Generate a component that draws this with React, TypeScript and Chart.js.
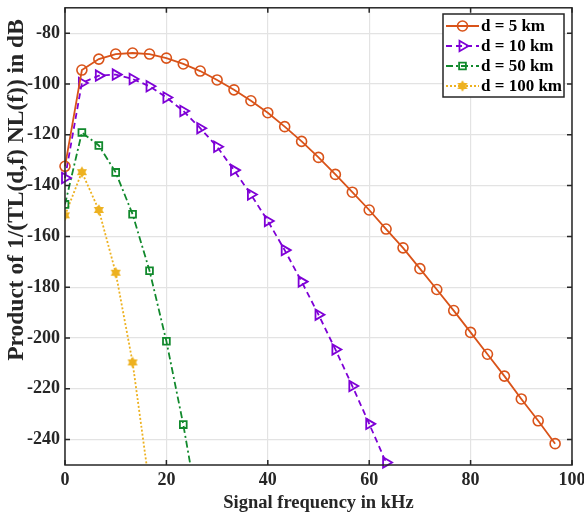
import React, { useEffect, useRef } from "react";
import { Chart, registerables } from "chart.js";
import { drawPoint } from "chart.js/helpers";

Chart.register(...registerables);

const FREQ = [0, 3.33, 6.67, 10, 13.33, 16.67, 20, 23.33, 26.67, 30, 33.33, 36.67, 40, 43.33, 46.67, 50, 53.33, 56.67, 60, 63.33, 66.67, 70, 73.33, 76.67, 80, 83.33, 86.67, 90, 93.33, 96.67];
const D5 = [-132.4, -94.5, -90.2, -88.2, -87.8, -88.2, -89.8, -92.1, -94.9, -98.4, -102.3, -106.6, -111.3, -116.8, -122.6, -128.9, -135.6, -142.6, -149.6, -157.1, -164.5, -172.7, -180.9, -189.2, -197.8, -206.4, -215.0, -224.0, -232.6, -241.6];
const D10 = [-137.0, -99.6, -96.7, -96.3, -98.0, -100.9, -105.3, -110.6, -117.4, -124.7, -133.9, -143.5, -153.9, -165.4, -177.8, -190.8, -204.5, -218.9, -233.8, -249.0];
const D50 = [-147.4, -119.1, -124.2, -134.8, -151.3, -173.5, -201.3, -234.1, -272.0];
const D100 = [-151.7, -134.7, -149.6, -174.3, -209.6, -258.4];
const LABELS = ["d = 5 km", "d = 10 km", "d = 50 km", "d = 100 km"];
const X_TICKS = [0, 20, 40, 60, 80, 100];
const Y_TICKS = [-240, -220, -200, -180, -160, -140, -120, -100, -80];
const X_TITLE = "Signal frequency in kHz";
const Y_TITLE = "Product of 1/(TL(d,f) NL(f)) in dB";

const FONT = "'Liberation Serif', 'Times New Roman', serif";
const AXIS_COLOR = "#262626";

function makeStar(color: string): HTMLCanvasElement {
  const c = document.createElement("canvas");
  c.width = 12;
  c.height = 12;
  const g = c.getContext("2d")!;
  g.fillStyle = color;
  g.beginPath();
  const cx = 6, cy = 6;
  for (let i = 0; i < 12; i++) {
    const r = i % 2 === 0 ? 5.8 : 3.4;
    const a = (Math.PI / 6) * i - Math.PI / 2;
    const px = cx + r * Math.cos(a);
    const py = cy + r * Math.sin(a);
    if (i === 0) g.moveTo(px, py);
    else g.lineTo(px, py);
  }
  g.closePath();
  g.fill();
  return c;
}

function toPts(ys: number[]) {
  return ys.map((y, i) => ({ x: FREQ[i], y }));
}

function noPad(s: any) {
  s.paddingLeft = 0;
  s.paddingRight = 0;
  s.paddingTop = 0;
  s.paddingBottom = 0;
}

export default function App() {
  const ref = useRef<HTMLCanvasElement>(null);
  useEffect(() => {
    document.body.style.margin = "0";
    const star = makeStar("#EDB120");
    const styles = [
      { color: "#D95319", dash: [] as number[], point: "circle" as any, radius: 5, rot: 0, bw: 1.6 },
      { color: "#7E00D6", dash: [6, 4], point: "triangle" as any, radius: 6, rot: 90, bw: 1.8 },
      { color: "#11892C", dash: [7, 3, 2, 3], point: "rect" as any, radius: 4.8, rot: 0, bw: 1.8 },
      { color: "#EDB120", dash: [2, 2], point: star as any, radius: 6, rot: 0, bw: 0 },
    ];
    const series = [D5, D10, D50, D100];
    const datasets = series.map((s, i) => ({
      label: LABELS[i],
      data: toPts(s),
      borderColor: styles[i].color,
      backgroundColor: "rgba(255,255,255,0)",
      borderWidth: 1.8,
      borderDash: styles[i].dash,
      pointStyle: styles[i].point,
      pointRadius: styles[i].radius,
      pointRotation: styles[i].rot,
      pointBorderWidth: styles[i].bw,
      pointBorderColor: styles[i].color,
      pointBackgroundColor: "rgba(255,255,255,0)",
      tension: 0,
      clip: i < 2 ? (false as any) : undefined,
    }));

    const framePlugin = {
      id: "frame",
      afterDraw(chart: any) {
        const { ctx, chartArea: a } = chart;
        const xs = chart.scales.x;
        const ys = chart.scales.y;
        ctx.save();
        ctx.strokeStyle = AXIS_COLOR;
        ctx.lineWidth = 1.5;
        ctx.setLineDash([]);
        ctx.strokeRect(a.left, a.top, a.right - a.left, a.bottom - a.top);
        ctx.beginPath();
        const tl = 5;
        X_TICKS.forEach((v) => {
          const px = xs.getPixelForValue(v);
          ctx.moveTo(px, a.bottom);
          ctx.lineTo(px, a.bottom - tl);
          ctx.moveTo(px, a.top);
          ctx.lineTo(px, a.top + tl);
        });
        Y_TICKS.forEach((v) => {
          const py = ys.getPixelForValue(v);
          ctx.moveTo(a.left, py);
          ctx.lineTo(a.left + tl, py);
          ctx.moveTo(a.right, py);
          ctx.lineTo(a.right - tl, py);
        });
        ctx.stroke();

        // y axis title
        ctx.save();
        ctx.translate(17, 190);
        ctx.rotate(-Math.PI / 2);
        ctx.fillStyle = AXIS_COLOR;
        ctx.font = `bold 23.5px ${FONT}`;
        ctx.textAlign = "center";
        ctx.textBaseline = "middle";
        ctx.fillText(Y_TITLE, 0, 0);
        ctx.restore();

        // legend
        const lx = 443, ly = 14, lw = 121, lh = 83;
        ctx.fillStyle = "#ffffff";
        ctx.fillRect(lx, ly, lw, lh);
        ctx.strokeStyle = AXIS_COLOR;
        ctx.lineWidth = 1.5;
        ctx.strokeRect(lx, ly, lw, lh);
        styles.forEach((st, i) => {
          const yy = ly + 12 + i * 20;
          ctx.strokeStyle = st.color;
          ctx.lineWidth = 1.8;
          ctx.setLineDash(st.dash);
          ctx.beginPath();
          ctx.moveTo(lx + 3, yy);
          ctx.lineTo(lx + 36, yy);
          ctx.stroke();
          ctx.setLineDash([]);
          ctx.fillStyle = "rgba(255,255,255,0)";
          ctx.strokeStyle = st.color;
          ctx.lineWidth = st.bw;
          drawPoint(ctx, { pointStyle: st.point, radius: st.radius, rotation: st.rot, borderWidth: st.bw } as any, lx + 19.5, yy);
          ctx.fillStyle = "#000000";
          ctx.font = `bold 17px ${FONT}`;
          ctx.textBaseline = "middle";
          ctx.textAlign = "left";
          ctx.fillText(LABELS[i], lx + 38, yy + 1);
        });
        ctx.restore();
      },
    };

    const chart = new Chart(ref.current!, {
      type: "line",
      data: { datasets: datasets as any },
      options: {
        animation: false,
        responsive: false,
        devicePixelRatio: 1,
        layout: { padding: { top: 5, right: 12, left: 0, bottom: 0 } },
        plugins: { legend: { display: false }, tooltip: { enabled: false } },
        scales: {
          x: {
            type: "linear",
            min: 0,
            max: 100,
            afterBuildTicks: (axis: any) => {
              axis.ticks = X_TICKS.map((v) => ({ value: v }));
            },
            afterFit: (s: any) => {
              s.height = 51;
              noPad(s);
            },
            ticks: {
              color: AXIS_COLOR,
              font: { family: FONT, size: 18, weight: "bold" },
              padding: 5,
              maxRotation: 0,
            },
            grid: { color: "#e3e3e3", lineWidth: 1.2, drawTicks: false },
            border: { display: false },
            title: {
              display: true,
              text: X_TITLE,
              color: AXIS_COLOR,
              font: { family: FONT, size: 18.5, weight: "bold" },
              padding: { top: 2, bottom: 2 },
            },
          },
          y: {
            type: "linear",
            min: -250,
            max: -70,
            afterBuildTicks: (axis: any) => {
              axis.ticks = Y_TICKS.map((v) => ({ value: v }));
            },
            afterFit: (s: any) => {
              s.width = 65;
              noPad(s);
            },
            ticks: {
              color: AXIS_COLOR,
              font: { family: FONT, size: 18, weight: "bold" },
              padding: 5,
            },
            grid: { color: "#e3e3e3", lineWidth: 1.2, drawTicks: false },
            border: { display: false },
            title: { display: false },
          },
        },
      },
      plugins: [framePlugin],
    });
    return () => chart.destroy();
  }, []);
  return <canvas ref={ref} width={584} height={516} style={{ display: "block" }} />;
}
